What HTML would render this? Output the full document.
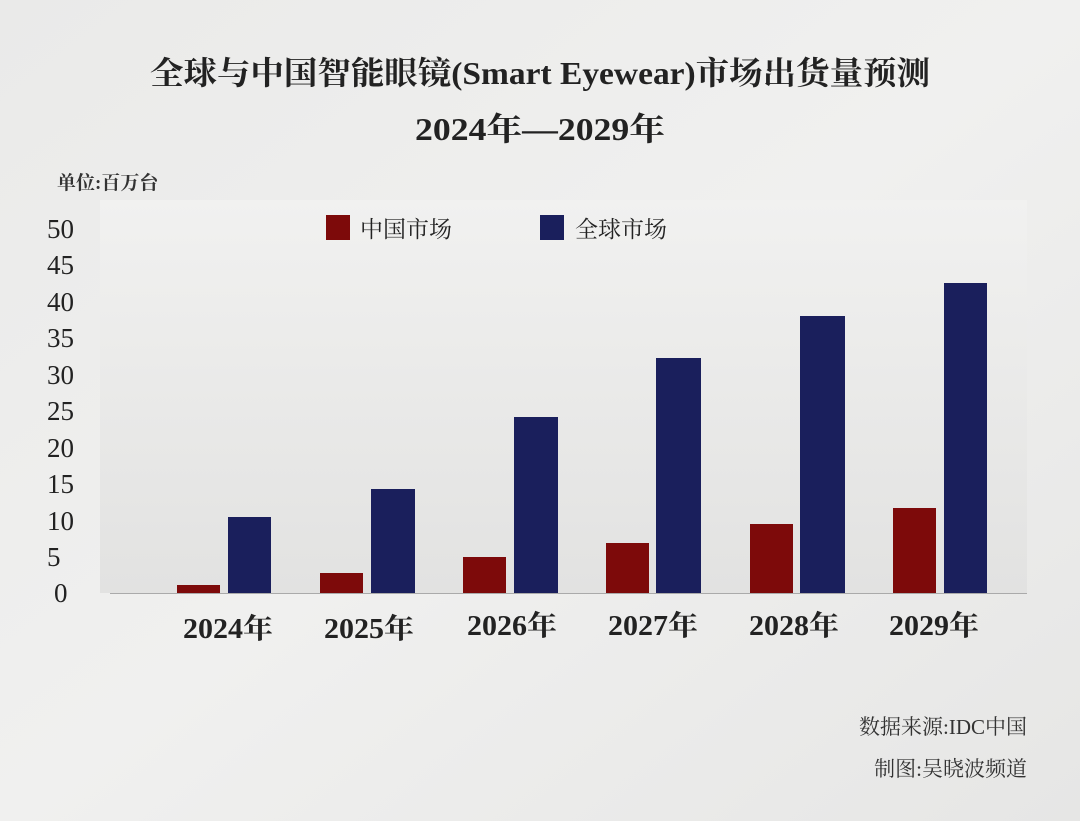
<!DOCTYPE html>
<html><head><meta charset="utf-8"><style>
body{margin:0;width:1080px;height:821px;background:#ececeb;overflow:hidden;font-family:"Liberation Serif","Noto Serif CJK SC",serif;}
</style></head><body>
<svg width="1080" height="821" xmlns="http://www.w3.org/2000/svg" style="position:absolute;left:0;top:0">
<defs><linearGradient id="g" x1="0" y1="0" x2="0" y2="1"><stop offset="0" stop-color="#f1f1f0"/><stop offset="1" stop-color="#e2e2e1"/></linearGradient>
<linearGradient id="bg" x1="0" y1="0" x2="1" y2="1"><stop offset="0" stop-color="#eaeae9"/><stop offset="0.5" stop-color="#f0f0ef"/><stop offset="1" stop-color="#e6e6e5"/></linearGradient></defs>
<rect width="1080" height="821" fill="url(#bg)"/>
<rect x="100" y="200" width="927" height="393" fill="url(#g)"/>
<g font-weight="bold" fill="#222" font-size="32">
<text x="150" y="84" textLength="780" lengthAdjust="spacingAndGlyphs">全球与中国智能眼镜(Smart Eyewear)市场出货量预测</text>
<text x="415" y="140" textLength="250" lengthAdjust="spacingAndGlyphs">2024年—2029年</text></g>
<text x="57" y="189" font-size="19" fill="#333" font-weight="bold">单位:百万台</text>
<g font-size="27" fill="#222">
<text x="47" y="238">50</text><text x="47" y="274">45</text><text x="47" y="311">40</text><text x="47" y="347">35</text><text x="47" y="384">30</text><text x="47" y="420">25</text><text x="47" y="457">20</text><text x="47" y="493">15</text><text x="47" y="530">10</text><text x="47" y="566">5</text><text x="54" y="602">0</text></g>
<rect x="326" y="215" width="24" height="25" fill="#7d0a0a"/>
<text x="360" y="237" font-size="23" fill="#222">中国市场</text>
<rect x="540" y="215" width="24" height="25" fill="#1a1f5c"/>
<text x="575" y="237" font-size="23" fill="#222">全球市场</text>
<g fill="#7d0a0a">
<rect x="177" y="585" width="43" height="8"/><rect x="320" y="573" width="43" height="20"/><rect x="463" y="557" width="43" height="36"/><rect x="606" y="543" width="43" height="50"/><rect x="750" y="524" width="43" height="69"/><rect x="893" y="508" width="43" height="85"/></g>
<g fill="#1a1f5c">
<rect x="228" y="517" width="43" height="76"/><rect x="371" y="489" width="44" height="104"/><rect x="514" y="417" width="44" height="176"/><rect x="656" y="358" width="45" height="235"/><rect x="800" y="316" width="45" height="277"/><rect x="944" y="283" width="43" height="310"/></g>
<line x1="110" y1="593.5" x2="1027" y2="593.5" stroke="#aaa" stroke-width="1"/>
<g font-size="28" font-weight="bold" fill="#222">
<text x="183" y="638" textLength="90" lengthAdjust="spacingAndGlyphs">2024年</text><text x="324" y="638" textLength="90" lengthAdjust="spacingAndGlyphs">2025年</text><text x="467" y="635" textLength="90" lengthAdjust="spacingAndGlyphs">2026年</text><text x="608" y="635" textLength="90" lengthAdjust="spacingAndGlyphs">2027年</text><text x="749" y="635" textLength="90" lengthAdjust="spacingAndGlyphs">2028年</text><text x="889" y="635" textLength="90" lengthAdjust="spacingAndGlyphs">2029年</text></g>
<g font-size="21" fill="#333" text-anchor="end">
<text x="1027" y="734">数据来源:IDC中国</text><text x="1027" y="776">制图:吴晓波频道</text></g>
</svg>
</body></html>
